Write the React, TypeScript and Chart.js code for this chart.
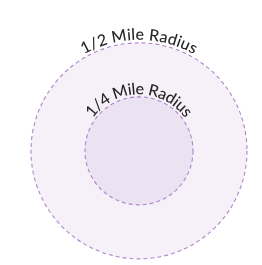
import React, { useEffect, useRef } from "react";
import { Chart, registerables } from "chart.js";

Chart.register(...registerables);

// Data (miles)
const ringLabels = ["1/2 Mile Radius", "1/4 Mile Radius"];
const ringRadii = [0.5, 0.25];
const ringFills = ["#f6f1f8", "#ebe3f1"];
const ringStroke = "#ad86cc";

const ringsPlugin = {
  id: "rings",
  afterDatasetsDraw(chart: any) {
    const { ctx, scales } = chart;
    const xs = scales.x;
    const ys = scales.y;
    const cx = xs.getPixelForValue(0);
    const cy = ys.getPixelForValue(0);
    ringRadii.forEach((r, i) => {
      const rp = xs.getPixelForValue(r) - cx;
      ctx.save();
      ctx.beginPath();
      ctx.arc(cx, cy, rp, 0, Math.PI * 2);
      ctx.fillStyle = ringFills[i];
      ctx.fill();
      ctx.setLineDash([4, 3]);
      ctx.lineWidth = 1.1;
      ctx.strokeStyle = ringStroke;
      ctx.stroke();
      ctx.restore();
    });
    // curved labels
    ringRadii.forEach((r, i) => {
      const rp = xs.getPixelForValue(r) - cx;
      const text = ringLabels[i];
      const baseR = rp + (i === 0 ? 3 : 2.5);
      ctx.save();
      ctx.font = "500 16px Lato, 'Open Sans', sans-serif";
      ctx.fillStyle = "#262626";
      ctx.textAlign = "center";
      ctx.textBaseline = "alphabetic";
      const spacing = i === 0 ? 0.2 : -0.3;
      const widths = Array.from(text).map((ch) => ctx.measureText(ch).width + spacing);
      const total = widths.reduce((a, b) => a + b, 0);
      let ang = -Math.PI / 2 - total / baseR / 2;
      Array.from(text).forEach((ch, k) => {
        const w = widths[k];
        const a = ang + w / baseR / 2;
        ctx.save();
        ctx.translate(cx + baseR * Math.cos(a), cy + baseR * Math.sin(a));
        ctx.rotate(a + Math.PI / 2);
        ctx.fillText(ch, 0, 0);
        ctx.restore();
        ang += w / baseR;
      });
      ctx.restore();
    });
  },
};

export default function App() {
  const ref = useRef<HTMLCanvasElement>(null);
  useEffect(() => {
    document.body.style.margin = "0";
    const chart = new Chart(ref.current!, {
      type: "scatter",
      data: {
        datasets: [
          {
            data: ringRadii.map(() => ({ x: 0, y: 0 })),
            pointRadius: 0,
          },
        ],
      },
      options: {
        animation: false,
        responsive: false,
        layout: { padding: 0 },
        plugins: { legend: { display: false }, tooltip: { enabled: false } },
        scales: {
          x: { display: false, min: -0.6435, max: 0.5695 },
          y: { display: false, min: -0.5255, max: 0.6945 },
        },
      },
      plugins: [ringsPlugin],
    });
    return () => chart.destroy();
  }, []);
  return (
    <div style={{ width: 262, height: 265, background: "#fff" }}>
      <canvas ref={ref} width={262} height={265} />
    </div>
  );
}
